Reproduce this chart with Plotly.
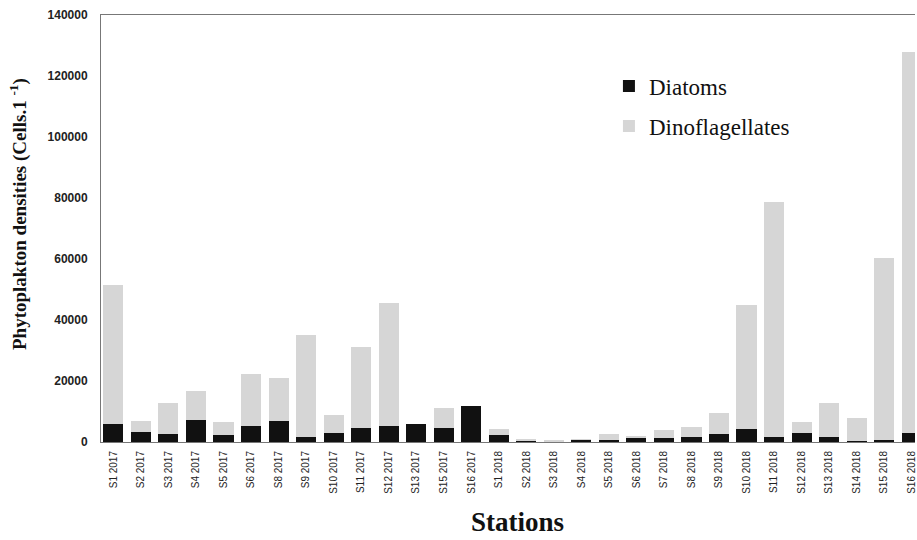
import plotly.graph_objects as go

stations = ["S1 2017", "S2 2017", "S3 2017", "S4 2017", "S5 2017", "S6 2017", "S8 2017",
            "S9 2017", "S10 2017", "S11 2017", "S12 2017", "S13 2017", "S15 2017", "S16 2017",
            "S1 2018", "S2 2018", "S3 2018", "S4 2018", "S5 2018", "S6 2018", "S7 2018",
            "S8 2018", "S9 2018", "S10 2018", "S11 2018", "S12 2018", "S13 2018", "S14 2018",
            "S15 2018", "S16 2018"]

diatoms = [5800, 3400, 2500, 7200, 2400, 5200, 7000, 1500, 3000, 4500, 5200, 6000, 4700, 11800,
           2200, 650, 300, 750, 700, 1500, 1400, 1600, 2600, 4400, 1500, 3000, 1500, 200,
           500, 2800]
totals = [51600, 6800, 12800, 16700, 6400, 22400, 21100, 35000, 9000, 31000, 45600, 6000, 11000, 11800,
          4300, 700, 500, 800, 2600, 1900, 4000, 4900, 9400, 44900, 78700, 6500, 12900, 7900,
          60300, 128000]
dinoflagellates = [t - d for t, d in zip(totals, diatoms)]

y_ticks = [0, 20000, 40000, 60000, 80000, 100000, 120000, 140000]

SERIF = "Liberation Serif, Times New Roman, serif"

fig = go.Figure()
fig.add_trace(go.Bar(x=stations, y=diatoms, name="Diatoms", legendgroup="a",
                     marker=dict(color="#111111", line=dict(width=0))))
fig.add_trace(go.Bar(x=stations, y=dinoflagellates, name="Dinoflagellates", legendgroup="b",
                     marker=dict(color="#d6d6d6", line=dict(width=0))))

fig.update_layout(
    width=917, height=540,
    margin=dict(l=101, r=0, t=15, b=98),
    barmode="stack", bargap=0.27,
    plot_bgcolor="white", paper_bgcolor="white",
    showlegend=True,
    legend=dict(x=0.624, y=0.884, xanchor="left", yanchor="top",
                font=dict(family=SERIF, size=23, color="#111"),
                traceorder="grouped", tracegroupgap=7, bgcolor="rgba(0,0,0,0)"),
    xaxis=dict(type="category", range=[-0.45, 29.12], showline=True, linecolor="#777",
               linewidth=1, mirror=True, ticks="", tickangle=-90, showgrid=False,
               tickfont=dict(family="Liberation Sans", size=10, color="#222"),
               ticklabelstandoff=4),
    yaxis=dict(range=[0, 140000], tickvals=y_ticks, tickformat="d", showline=True,
               linecolor="#777", linewidth=1, ticks="", showgrid=False, zeroline=False,
               tickfont=dict(family="Liberation Sans", size=12, color="#222", weight="bold"),
               ticklabelstandoff=10),
    annotations=[
        dict(text="Phytoplakton densities (Cells.1 <sup>-1</sup>)", textangle=-90,
             xref="paper", yref="paper", x=0, y=0.534, xshift=-82, showarrow=False,
             xanchor="center", yanchor="middle",
             font=dict(family=SERIF, size=19, color="#111", weight="bold")),
        dict(text="Stations", xref="paper", yref="paper", x=0.512, y=0, yshift=-80,
             showarrow=False, xanchor="center", yanchor="middle",
             font=dict(family=SERIF, size=27, color="#111", weight="bold")),
    ],
)

fig.write_html("out.html", config={"displayModeBar": False},
               post_script="document.body.style.margin='0';")
